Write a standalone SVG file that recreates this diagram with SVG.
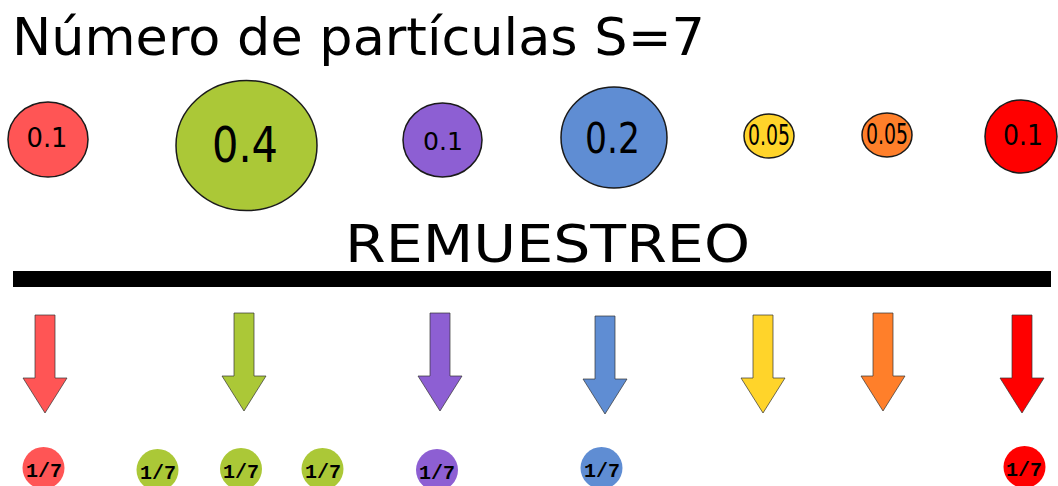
<svg xmlns="http://www.w3.org/2000/svg" width="1058" height="486" viewBox="0 0 1058 486">
  <style>
    .title { font-family: "DejaVu Sans", Verdana, sans-serif; fill: #000; }
    .w { stroke: #1a1a1a; stroke-width: 1.5; }
    .lbl { font-family: "DejaVu Sans", Verdana, sans-serif; fill: #000; text-anchor: middle; }
    .arr { stroke: #333; stroke-opacity: 0.7; stroke-width: 1; }
    .frac { font-family: "Liberation Mono", "DejaVu Sans Mono", monospace; font-size: 20px; font-weight: bold; fill: #000; text-anchor: middle; }
    .c-lred { fill: #ff5555; }
    .c-green { fill: #abc837; }
    .c-purple { fill: #8d5fd3; }
    .c-blue { fill: #5f8dd3; }
    .c-yellow { fill: #ffd42a; }
    .c-orange { fill: #ff7f2a; }
    .c-red { fill: #ff0000; }
  </style>
  <defs>
    <!-- down arrow, origin at shaft top centre -->
    <path id="down" d="M-10,0 H10 V63 H22 L0,98 L-22,63 H-10 Z"/>
  </defs>
  <rect width="1058" height="486" fill="#fff"/>

  <text class="title" x="12" y="55" font-size="51" textLength="693" lengthAdjust="spacingAndGlyphs">Número de partículas S=7</text>

  <!-- weighted particles -->
  <g id="p1"><ellipse class="w c-lred" cx="48" cy="139.5" rx="40" ry="37.5"/><text class="lbl" x="47" y="147" font-size="26" textLength="41" lengthAdjust="spacingAndGlyphs">0.1</text></g>
  <g id="p2"><ellipse class="w c-green" cx="246.5" cy="145.5" rx="70.5" ry="65"/><text class="lbl" x="245" y="162" font-size="50" textLength="66" lengthAdjust="spacingAndGlyphs">0.4</text></g>
  <g id="p3"><ellipse class="w c-purple" cx="442.5" cy="140" rx="39.5" ry="37"/><text class="lbl" x="443" y="150" font-size="24" textLength="40" lengthAdjust="spacingAndGlyphs">0.1</text></g>
  <g id="p4"><ellipse class="w c-blue" cx="614" cy="137.5" rx="53" ry="50.5"/><text class="lbl" x="612.5" y="153" font-size="42" textLength="55" lengthAdjust="spacingAndGlyphs">0.2</text></g>
  <g id="p5"><ellipse class="w c-yellow" cx="769" cy="136" rx="25" ry="22"/><text class="lbl" x="769" y="145" font-size="29" textLength="42" lengthAdjust="spacingAndGlyphs">0.05</text></g>
  <g id="p6"><ellipse class="w c-orange" cx="887" cy="135" rx="25" ry="22"/><text class="lbl" x="887" y="144" font-size="29" textLength="42" lengthAdjust="spacingAndGlyphs">0.05</text></g>
  <g id="p7"><ellipse class="w c-red" cx="1021" cy="136.5" rx="36" ry="36.5"/><text class="lbl" x="1023" y="145" font-size="29" textLength="40" lengthAdjust="spacingAndGlyphs">0.1</text></g>

  <g id="resample">
    <text class="title" x="345" y="262" font-size="51" textLength="405" lengthAdjust="spacingAndGlyphs">REMUESTREO</text>
    <rect x="13" y="271" width="1038" height="16" fill="#000"/>
  </g>

  <!-- resampling arrows -->
  <g id="arrows">
    <use href="#down" class="arr c-lred" x="45" y="315"/>
    <use href="#down" class="arr c-green" x="244" y="313"/>
    <use href="#down" class="arr c-purple" x="440" y="313"/>
    <use href="#down" class="arr c-blue" x="605" y="316"/>
    <use href="#down" class="arr c-yellow" x="763" y="315"/>
    <use href="#down" class="arr c-orange" x="883" y="313"/>
    <use href="#down" class="arr c-red" x="1022" y="315"/>
  </g>

  <!-- resampled particles, equal weight -->
  <g id="q1"><circle class="c-lred" cx="43.5" cy="468" r="21"/><text class="frac" x="44" y="477">1/7</text></g>
  <g id="q2"><circle class="c-green" cx="157.5" cy="470" r="21"/><text class="frac" x="158" y="479">1/7</text></g>
  <g id="q3"><circle class="c-green" cx="241" cy="469" r="21"/><text class="frac" x="241" y="478">1/7</text></g>
  <g id="q4"><circle class="c-green" cx="322.5" cy="469" r="21"/><text class="frac" x="323" y="478">1/7</text></g>
  <g id="q5"><circle class="c-purple" cx="437" cy="470" r="21"/><text class="frac" x="437" y="479">1/7</text></g>
  <g id="q6"><circle class="c-blue" cx="601.5" cy="468" r="21"/><text class="frac" x="602" y="477">1/7</text></g>
  <g id="q7"><circle class="c-red" cx="1024.5" cy="467" r="21"/><text class="frac" x="1024" y="476">1/7</text></g>
</svg>
